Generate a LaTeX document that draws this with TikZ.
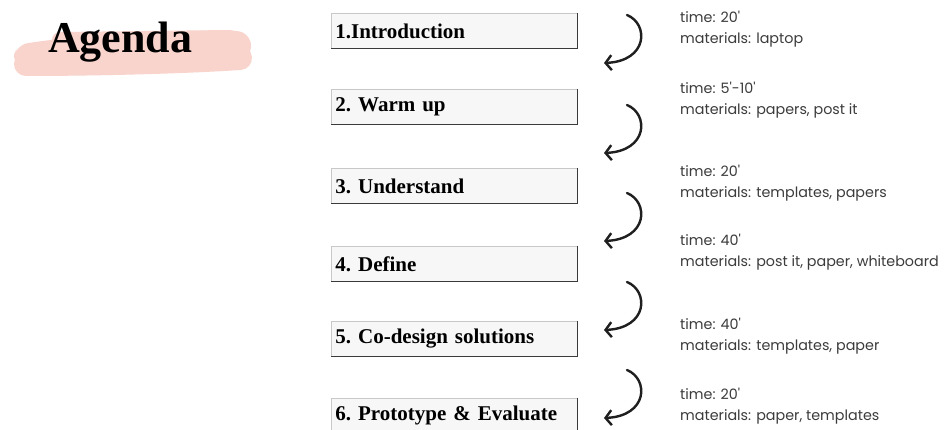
\documentclass[tikz,border=0pt]{standalone}
\usepackage{fontspec}
\usetikzlibrary{arrows.meta}
\setmainfont{Liberation Serif}
\newfontfamily\notefont{Poppins}
\definecolor{brushpink}{HTML}{F9D4CC}
\definecolor{boxfill}{HTML}{F7F7F7}
\definecolor{boxedge}{HTML}{C8C8C8}
\definecolor{boxshade}{HTML}{3A3A3A}
\definecolor{notegray}{HTML}{3C3C3C}
\tikzset{
  stepbox/.style={anchor=north west, fill=boxfill, draw=boxedge, line width=0.8pt,
    minimum height=35pt, text width=238pt, inner xsep=4pt, align=left,
    font=\frenchspacing\fontsize{21}{24}\selectfont\bfseries},
  boxshadow/.style={draw=boxshade, line width=1.2pt},
  notes/.style={anchor=north west, align=left, inner sep=0pt, text=notegray,
    font=\notefont\fontsize{14.3}{21}\selectfont},
  flow/.style={line width=2.4pt, line cap=round, color=black!88,
    -{Straight Barb[length=6pt,width=15pt,line width=2.4pt]}},
  brush/.style={brushpink, line cap=round, line join=round}
}
\begin{document}
\begin{tikzpicture}[x=1pt,y=-1pt]
\useasboundingbox (0,0) rectangle (946,430);
\fill[white] (0,0) rectangle (946,430);

% brush stroke behind the title
\draw[brush, line width=30pt] (30,58) .. controls (80,50) and (170,45) .. (236,46);
\draw[brush, line width=24pt] (26,64) .. controls (90,64) and (180,62) .. (240,58);
\draw[brush, line width=16pt] (60,40) -- (230,38);
\draw[brush, line width=16pt] (22,56) -- (30,68);
\draw[brush, line width=14pt] (200,42) -- (244,45);
\node[font=\fontsize{44}{48}\selectfont\bfseries, anchor=base west, inner sep=0pt] (title) at (48,53) {Agenda};

% steps
\node[stepbox] (b1) at (331,13) {1.Introduction};
\node[stepbox] (b2) at (331,89) {2. Warm up};
\node[stepbox] (b3) at (331,168) {3. Understand};
\node[stepbox] (b4) at (331,246) {4. Define};
\node[stepbox] (b5) at (331,321) {5. Co-design solutions};
\node[stepbox] (b6) at (331,398) {6. Prototype \& Evaluate};
\foreach \b in {b1,b2,b3,b4,b5,b6}
  \draw[boxshadow] (\b.north east) -- (\b.south east) -- (\b.south west);

% notes
\node[notes] (n1) at (680,11) {time: 20'\\materials: laptop};
\node[notes] (n2) at (680,82) {time: 5'-10'\\materials: papers, post it};
\node[notes] (n3) at (680,165) {time: 20'\\materials: templates, papers};
\node[notes] (n4) at (680,234) {time: 40'\\materials: post it, paper, whiteboard};
\node[notes] (n5) at (680,318) {time: 40'\\materials: templates, paper};
\node[notes] (n6) at (680,388) {time: 20'\\materials: paper, templates};

% curved arrows between steps
\foreach \k/\s in {1/15,2/105,3/193,4/282,5/370}{
  \coordinate (a\k s) at (627,\s);
  \coordinate (a\k e) at (604,\s+48);
  \draw[flow] (a\k s) .. controls ++(22,9) and ++(44,-2) .. (a\k e);
}
\end{tikzpicture}
\end{document}
